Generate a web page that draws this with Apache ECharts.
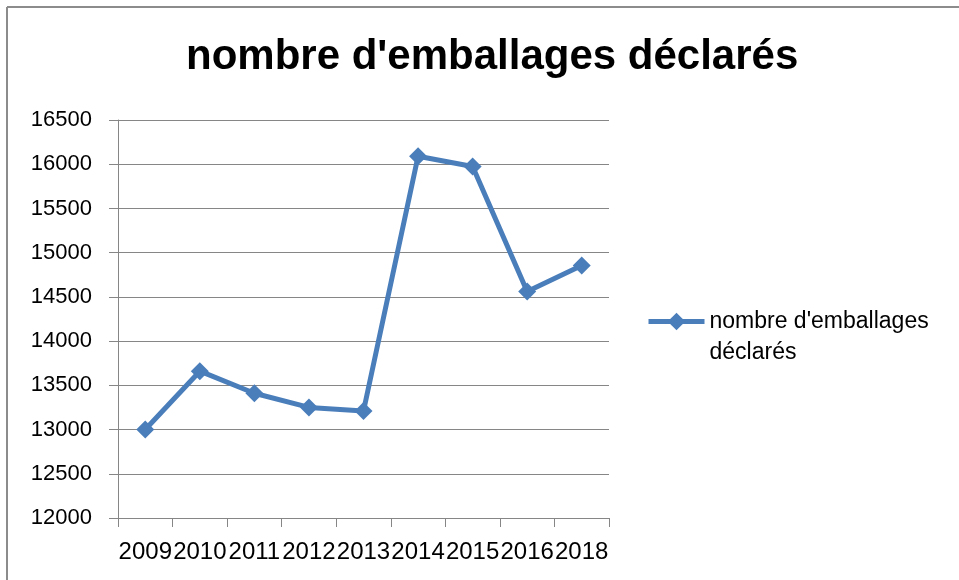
<!DOCTYPE html>
<html>
<head>
<meta charset="utf-8">
<script src="https://cdn.jsdelivr.net/npm/echarts@6/dist/echarts.min.js"></script>
<style>
html,body{margin:0;padding:0;background:#fff;}
#chart{width:959px;height:580px;}
</style>
</head>
<body>
<div id="chart"></div>
<script>
const titleText = "nombre d'emballages déclarés";
const seriesName = "nombre d'emballages déclarés";
const legendLines = ["nombre d'emballages", "déclarés"];
const categories = ["2009", "2010", "2011", "2012", "2013", "2014", "2015", "2016", "2018"];
const values = [13000, 13660, 13410, 13250, 13210, 16090, 15975, 14560, 14855];
const yMin = 12000, yMax = 16500, yStep = 500;

const chart = echarts.init(document.getElementById('chart'), null, {renderer: 'canvas'});
const font = 'Liberation Sans';
const gray = '#868686';
chart.setOption({
  animation: false,
  backgroundColor: '#ffffff',
  graphic: [
    {type: 'line', shape: {x1: 7, y1: 7, x2: 959, y2: 7}, style: {stroke: '#8c8c8c', lineWidth: 2}},
    {type: 'line', shape: {x1: 7, y1: 7, x2: 7, y2: 580}, style: {stroke: '#8c8c8c', lineWidth: 2}}
  ],
  title: {
    text: titleText,
    left: 181,
    top: 31,
    padding: [5, 0, 5, 5],
    textStyle: {fontFamily: font, fontWeight: 'bold', fontSize: 42, color: '#000'}
  },
  legend: {
    left: 646,
    top: 275,
    padding: 0,
    itemWidth: 56,
    itemHeight: 22,
    itemGap: 0,
    lineStyle: {width: 5},
    formatter: function () { return " \n" + legendLines.join("\n"); },
    textStyle: {fontFamily: font, fontSize: 23, color: '#000', lineHeight: 31}
  },
  grid: {left: 118, right: 350, top: 120, bottom: 62, containLabel: false},
  xAxis: {
    type: 'category',
    data: categories,
    boundaryGap: true,
    axisLine: {lineStyle: {color: gray, width: 1}},
    axisTick: {show: true, length: 9, inside: false, lineStyle: {color: gray}},
    axisLabel: {interval: 0, margin: 22, fontFamily: font, fontSize: 24, color: '#000'},
    splitLine: {show: false}
  },
  yAxis: {
    type: 'value',
    min: yMin, max: yMax, interval: yStep,
    axisLine: {show: true, lineStyle: {color: gray, width: 1}},
    axisTick: {show: true, length: 9, lineStyle: {color: gray}},
    axisLabel: {margin: 26, fontFamily: font, fontSize: 22, color: '#000', formatter: function (v) { return String(v); }},
    splitLine: {show: true, lineStyle: {color: gray, width: 1}}
  },
  series: [{
    name: seriesName,
    type: 'line',
    data: values,
    symbol: 'diamond',
    symbolSize: 18,
    showSymbol: true,
    lineStyle: {color: '#4A7EBB', width: 5},
    itemStyle: {color: '#4A7EBB'}
  }]
});
</script>
</body>
</html>
